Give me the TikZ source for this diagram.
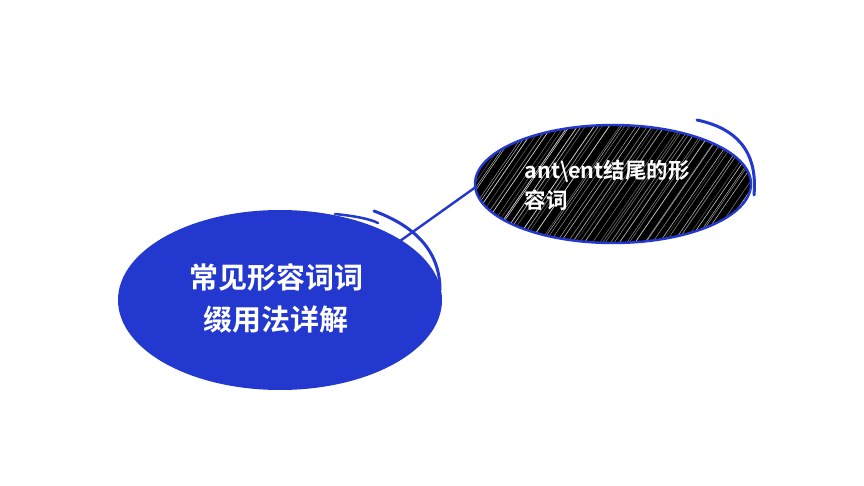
\documentclass[tikz,border=0pt]{standalone}
\usepackage{fontspec}
\newfontfamily\cjk{Noto Sans CJK SC Bold}
\definecolor{myblue}{RGB}{34,56,206}
\begin{document}
\begin{tikzpicture}[x=1pt,y=-1pt,
  bigtext/.style={font=\cjk\fontsize{29}{42}\selectfont, text=white, align=center},
  smalltext/.style={font=\cjk\fontsize{21.5}{30}\selectfont, text=white, align=left},
  bluestroke/.style={draw=myblue, line width=3pt, line cap=round}]
\useasboundingbox (0,0) rectangle (864,486);
\fill[white] (0,0) rectangle (864,486);
% connector
\coordinate (c1) at (400,241);
\draw[myblue, line width=2.4pt] (c1) -- (480,184) coordinate (c2);
% big blue ellipse
\fill[myblue] (280,300) ellipse [x radius=162, y radius=90];
\draw[bluestroke] (374,211) .. controls (420,228) and (440,255) .. (440,290);
\draw[bluestroke, line width=2.5pt] (335,214) .. controls (355,216) and (370,219) .. (378,223);
\node[bigtext] (main) at (276,298) {常见形容词词\\缀用法详解};
% black hatched ellipse
\fill[black] (613,184) ellipse [x radius=138, y radius=59];
\begin{scope}
  \clip (613,184) ellipse [x radius=138, y radius=59];
  \pgfmathsetseed{7}
  \foreach \i in {0,...,70} {
    \pgfmathsetmacro{\xx}{390+\i*5+rand*3}
    \pgfmathsetmacro{\op}{0.3+0.6*rnd}
    \pgfmathsetmacro{\lw}{0.3+0.5*rnd}
    \draw[white, opacity=\op, line width=\lw pt] (\xx,260) -- ++(110,-160);
  }
\end{scope}
\draw[myblue, line width=2.4pt] (613,184) ellipse [x radius=138, y radius=59];
\draw[bluestroke] (697,120) .. controls (735,128) and (758,150) .. (754,195);
\node[smalltext, anchor=west] (sub) at (521,185) {ant\textbackslash ent结尾的形\\容词};
\end{tikzpicture}
\end{document}
